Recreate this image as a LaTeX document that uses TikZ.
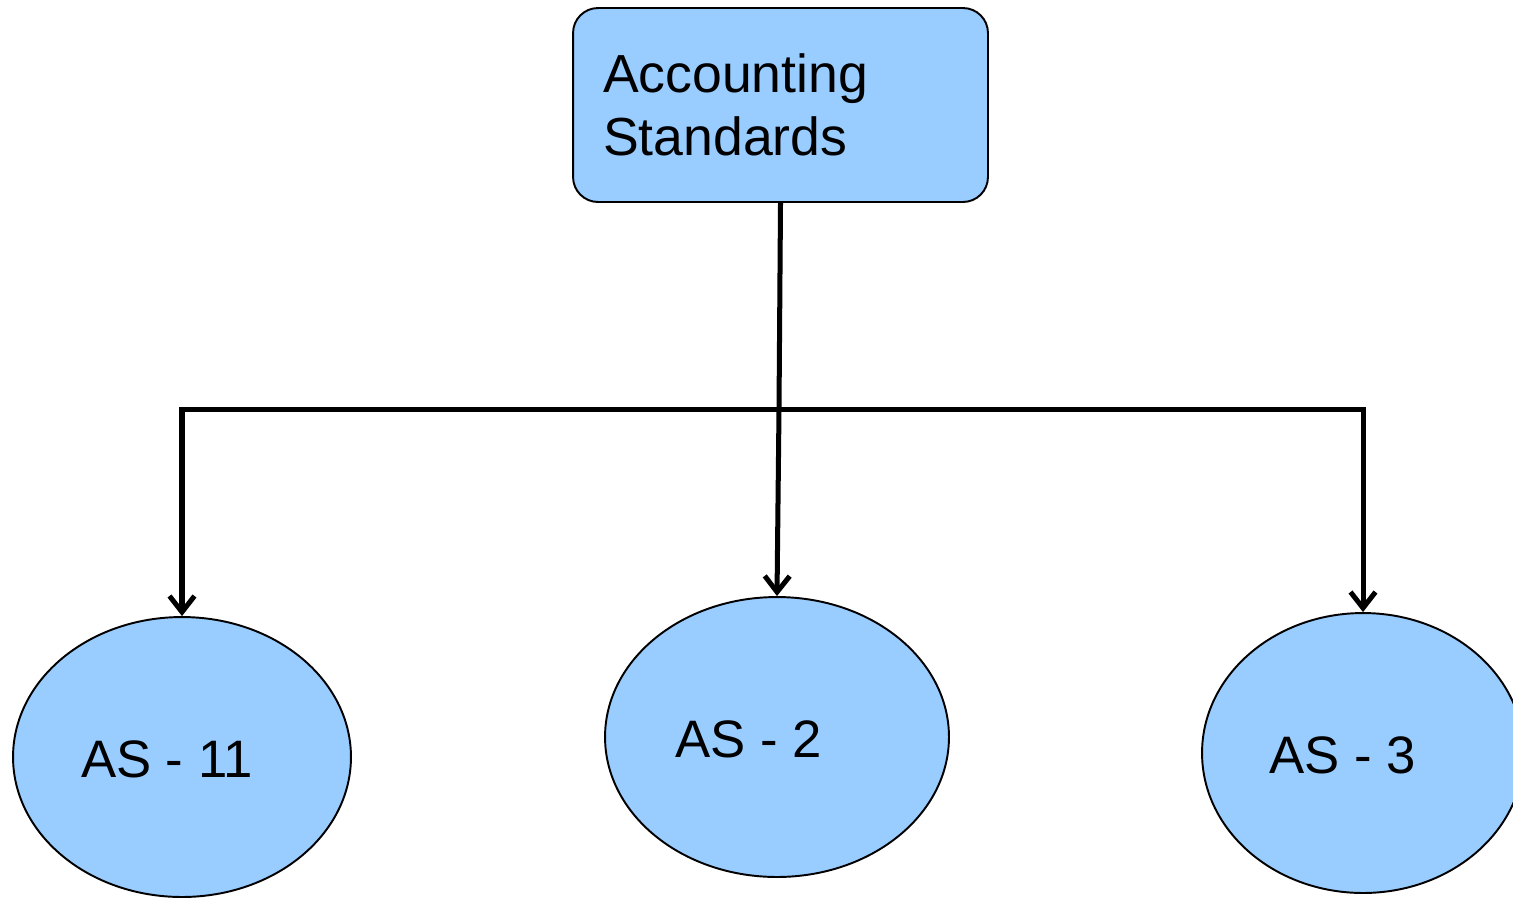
\documentclass[tikz,border=0pt]{standalone}
\usepackage{fontspec}
\setmainfont{Liberation Sans}
\usetikzlibrary{arrows.meta,shapes.geometric}
\definecolor{boxblue}{HTML}{99CCFF}
\begin{document}
\begin{tikzpicture}[x=0.02cm, y=-0.02cm]

    \tikzstyle{stdbox} = [rectangle, draw, fill=boxblue, line width=1.1pt, rounded corners=0.5cm, minimum width=8.3cm, minimum height=3.88cm, text width=7.1cm, inner xsep=0.6cm, align=left, font=\fontsize{30.5}{35.5}\selectfont]
    \tikzstyle{asnode} = [ellipse, draw, fill=boxblue, line width=1.1pt, minimum height=5.6cm, inner sep=0pt]
    \tikzstyle{astext} = [font=\fontsize{30}{35}\selectfont, yshift=-0.05cm]
    \tikzstyle{link} = [line width=2.85pt]
    \tikzstyle{arrow} = [link, -{Straight Barb[length=0.32cm, width=0.5cm]}]

    \useasboundingbox (0,0) rectangle (1513,897);

    \node (std) [stdbox] at (780.5,105) {Accounting\\Standards};

    \node (as11) [asnode, minimum width=6.76cm, label={[astext, xshift=-0.3cm]center:AS - 11}] at (182,757) {};
    \node (as2) [asnode, minimum width=6.88cm, label={[astext, xshift=-0.56cm]center:AS - 2}] at (777,737) {};
    \node (as3) [asnode, minimum width=6.44cm, label={[astext, xshift=-0.4cm]center:AS - 3}] at (1363,753) {};

    \coordinate (split) at (779,409);

    \draw [link] (std.south) -- (split);
    \draw [arrow] (split) -| (as11);
    \draw [arrow] (split) -- (as2.north);
    \draw [arrow] (split) -| (as3);

\end{tikzpicture}
\end{document}
